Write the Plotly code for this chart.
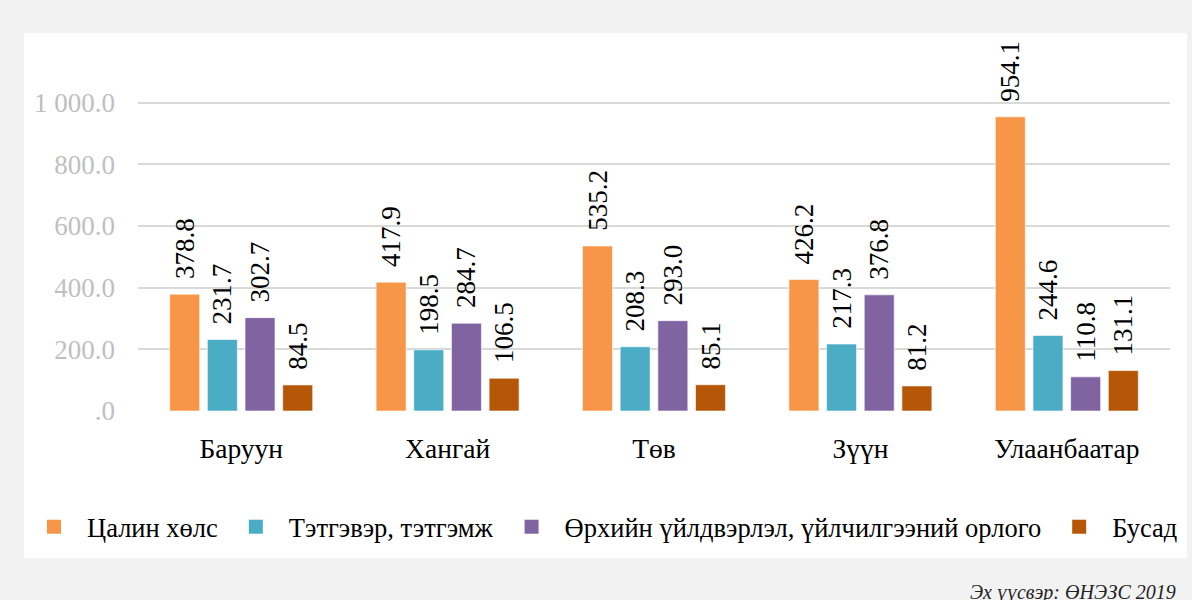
import plotly.graph_objects as go

regions = ["Баруун", "Хангай", "Төв", "Зүүн", "Улаанбаатар"]
series_names = ["Цалин хөлс", "Тэтгэвэр, тэтгэмж",
                "Өрхийн үйлдвэрлэл, үйлчилгээний орлого", "Бусад"]
salary = [378.8, 417.9, 535.2, 426.2, 954.1]
pension = [231.7, 198.5, 208.3, 217.3, 244.6]
household = [302.7, 284.7, 293.0, 376.8, 110.8]
other = [84.5, 106.5, 85.1, 81.2, 131.1]
tick_vals = [0, 200, 400, 600, 800, 1000]
tick_text = [".0", "200.0", "400.0", "600.0", "800.0", "1 000.0"]
colors = ["#F79646", "#4BACC6", "#8064A2", "#B65708"]
source_text = "Эх үүсвэр: ӨНЭЗС 2019"

FONT = "Liberation Serif"

fig = go.Figure()
for name, vals, col in zip(series_names, [salary, pension, household, other], colors):
    fig.add_trace(go.Bar(
        x=regions, y=vals, name=name, showlegend=False,
        marker=dict(color=col, line=dict(color="rgba(255,255,255,0.6)", width=1)),
        text=["\u00a0\u2009" + f"{v:.1f}" for v in vals],
        textposition="outside", textangle=-90,
        textfont=dict(family=FONT, size=27, color="black"),
        outsidetextfont=dict(family=FONT, size=27, color="black"),
        cliponaxis=False, constraintext="none",
    ))
# legend entries (square swatches)
for name, col in zip(series_names, colors):
    fig.add_trace(go.Scatter(
        x=[None], y=[None], name=name, mode="markers",
        marker=dict(symbol="square", size=14, color=col),
        showlegend=True,
    ))

L, R, T, B = 138, 22, 41, 189
W, H = 1192, 600
pw, ph = W - L - R, H - T - B

def px2x(px):
    return (px - L) / pw

def py2y(py):
    return (H - B - py) / ph

fig.add_shape(type="rect", xref="paper", yref="paper",
              x0=px2x(24), x1=px2x(1187), y0=py2y(558), y1=py2y(33),
              fillcolor="white", line=dict(width=0), layer="below")

fig.add_annotation(text="<i>" + source_text + "</i>", xref="paper", yref="paper",
                   x=px2x(1178), y=py2y(592), xanchor="right", yanchor="middle",
                   showarrow=False,
                   font=dict(family=FONT, size=20, color="#222222"),
                   )

fig.update_layout(
    width=W, height=H,
    margin=dict(l=L, r=R, t=T, b=B, autoexpand=False),
    paper_bgcolor="#F2F2F2", plot_bgcolor="white",
    barmode="group", bargap=0.27, bargroupgap=0.204,
    font=dict(family=FONT, size=26, color="black"),
    showlegend=True,
    legend=dict(orientation="h", x=px2x(21), xanchor="left",
                y=py2y(527), yanchor="middle",
                font=dict(family=FONT, size=26.5, color="black"),
                itemwidth=56, tracegroupgap=0,
                bgcolor="rgba(0,0,0,0)"),
    xaxis=dict(showgrid=False, showline=False, ticks="",
               tickfont=dict(family=FONT, size=27.5, color="black"),
               ticklabelstandoff=18),
    yaxis=dict(range=[0, 1200], tickvals=tick_vals, ticktext=tick_text,
               showgrid=True, gridcolor="#D9D9D9", gridwidth=1.5,
               zeroline=False, showline=False,
               tickfont=dict(family=FONT, size=27, color="#BFBFBF"),
               ticklabelstandoff=22),
)

fig.write_html(
    "out.html",
    config={"displayModeBar": False},
    post_script="document.body.style.margin='0';document.body.style.background='#F2F2F2';",
)
